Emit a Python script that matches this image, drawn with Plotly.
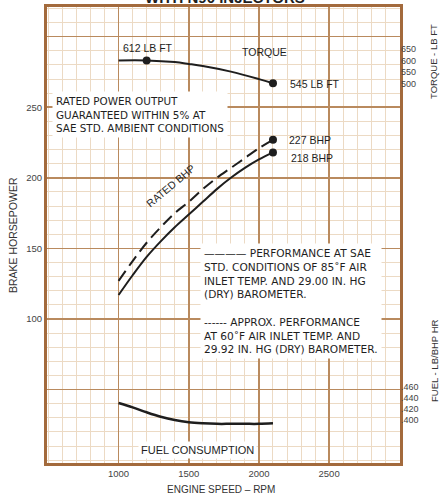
import plotly.graph_objects as go

# ---------------- data ----------------
rpm = [1000, 1100, 1200, 1300, 1400, 1500, 1600, 1700, 1800, 1900, 2000, 2100]
bhp_sae = [117, 131, 144, 155, 165, 174, 183, 192, 200, 207, 213, 218]
bhp_approx = [127, 141, 154, 165, 175, 183, 192, 200, 207, 214, 221, 227]

torque_rpm = [1000, 1200, 1400, 1500, 1600, 1800, 2000, 2100]
torque = [601, 601, 594, 586, 577, 553, 521, 503]
torque_mark_rpm = [1200, 2100]

fuel = [0.431, 0.423, 0.414, 0.406, 0.400, 0.396, 0.394, 0.393, 0.393, 0.393, 0.393, 0.394]

x_ticks = [1000, 1500, 2000, 2500]
bhp_ticks = [50, 100, 150, 200, 250, 300]
bhp_ticktext = ["", "100", "150", "200", "250", ""]
torque_ticks = [500, 550, 600, 650]
fuel_ticks = [0.400, 0.420, 0.440, 0.460]
fuel_ticktext = [".400", ".420", ".440", ".460"]

# ---------------- layout helpers ----------------
W, H = 440, 499
L, R, T, B = 47, 400, 7, 463

def px(x):
    return (x - L) / (R - L)

def py(y):
    return (B - y) / (B - T)

MAJOR = "#b98a5e"
MINOR = "#ecdac4"
FRAME = "#a36a3c"
INK = "#1e1e1e"
FONT = "Liberation Sans, Arial, sans-serif"
WIDE = "DejaVu Sans, Verdana, sans-serif"

fig = go.Figure()

# BHP curves
fig.add_trace(go.Scatter(x=rpm, y=bhp_approx, mode="lines", line=dict(color=INK, width=2, dash="12px,6px", shape="spline"),
                         yaxis="y", showlegend=False, hoverinfo="skip"))
fig.add_trace(go.Scatter(x=rpm, y=bhp_sae, mode="lines", line=dict(color=INK, width=2, shape="spline"),
                         yaxis="y", showlegend=False, hoverinfo="skip"))
fig.add_trace(go.Scatter(x=[rpm[-1], rpm[-1]], y=[bhp_approx[-1], bhp_sae[-1]], mode="markers",
                         marker=dict(color=INK, size=8), yaxis="y", showlegend=False, hoverinfo="skip"))

# Torque
fig.add_trace(go.Scatter(x=torque_rpm, y=torque, mode="lines", line=dict(color=INK, width=2, shape="spline"),
                         yaxis="y2", showlegend=False, hoverinfo="skip"))
fig.add_trace(go.Scatter(x=torque_mark_rpm, y=[torque[torque_rpm.index(r)] for r in torque_mark_rpm], mode="markers",
                         marker=dict(color=INK, size=8), yaxis="y2", showlegend=False, hoverinfo="skip"))

# Fuel
fig.add_trace(go.Scatter(x=rpm, y=fuel, mode="lines", line=dict(color=INK, width=2.5, shape="spline"),
                         yaxis="y3", showlegend=False, hoverinfo="skip"))

# ---------------- axes ----------------
bhp_range = [-2, 321]

# torque axis: 650 at y=49px, 500 at y=84px
t_scale = (84 - 49) / 150.0
torque_range = [500 - (B - 84) / t_scale, 650 + (49 - T) / t_scale]
# fuel axis: .460 at y=387px, .400 at y=420px
f_scale = (420 - 387) / 0.06
fuel_range = [0.400 - (B - 420) / f_scale, 0.460 + (387 - T) / f_scale]

tickfont = dict(family=FONT, size=9.5, color="#444")
rfont = dict(family=FONT, size=9, color="#444")

fig.update_layout(
    width=W, height=H,
    margin=dict(l=L, r=W - R, t=T, b=H - B, autoexpand=False),
    paper_bgcolor="white", plot_bgcolor="white",
    xaxis=dict(range=[490, 3005], tickvals=x_ticks, ticks="", showgrid=True, gridcolor=MAJOR, gridwidth=1.6,
               minor=dict(tickmode="linear", tick0=0, dtick=100, showgrid=True, gridcolor=MINOR, gridwidth=1),
               showline=True, mirror=True, linecolor=FRAME, linewidth=3, zeroline=False, automargin=False,
               tickfont=tickfont, fixedrange=True),
    yaxis=dict(range=bhp_range, tickvals=bhp_ticks, ticktext=bhp_ticktext, ticks="", showgrid=True,
               gridcolor=MAJOR, gridwidth=1.6,
               minor=dict(tickmode="linear", tick0=0, dtick=10, showgrid=True, gridcolor=MINOR, gridwidth=1),
               showline=True, mirror=True, linecolor=FRAME, linewidth=3, zeroline=False, automargin=False,
               tickfont=tickfont, fixedrange=True),
    yaxis2=dict(range=torque_range, overlaying="y", side="right", tickvals=torque_ticks, ticks="",
                showgrid=False, zeroline=False, showline=False, automargin=False, tickfont=rfont, fixedrange=True),
    yaxis3=dict(range=fuel_range, overlaying="y", side="right", tickvals=fuel_ticks, ticktext=fuel_ticktext,
                ticks="", showgrid=False, zeroline=False, showline=False, automargin=False, tickfont=rfont,
                fixedrange=True),
)

# ---------------- annotations ----------------
def ann(text, x, y, size=10.5, xanchor="center", yanchor="middle", align="center", bg=None, angle=0,
        bold=False, color=INK, pad=1, family=FONT):
    fig.add_annotation(text=("<b>%s</b>" % text) if bold else text, xref="paper", yref="paper",
                       x=px(x), y=py(y), xanchor=xanchor, yanchor=yanchor, align=align, showarrow=False,
                       textangle=angle, bgcolor=bg, borderpad=pad,
                       font=dict(family=family, size=size, color=color))

ann("WITH N90 INJECTORS", 225, 8, size=15, yanchor="bottom", bold=True)

ann("612 LB FT", 148, 48)
ann("TORQUE", 264, 52)
ann("545 LB FT", 288, 84, xanchor="left")
ann("227 BHP", 287, 140, xanchor="left")
ann("218 BHP", 289, 158, xanchor="left")

ann("RATED POWER OUTPUT<br>GUARANTEED WITHIN 5% AT<br>SAE STD. AMBIENT CONDITIONS", 52, 91, size=10.4,
    xanchor="left", yanchor="top", align="left", bg="white", pad=3, family=WIDE)

ann("RATED BHP", 170, 186, size=10.5, angle=-40)

ann("———— PERFORMANCE AT SAE<br>STD. CONDITIONS OF 85˚F AIR<br>INLET TEMP. AND 29.00 IN. HG<br>(DRY) BAROMETER."
    "<br> <br>------ APPROX. PERFORMANCE<br>AT 60˚F AIR INLET TEMP. AND<br>29.92 IN. HG (DRY) BAROMETER.",
    200, 243, size=10.6, xanchor="left", yanchor="top", align="left", bg="white", pad=3, family=WIDE)

ann("FUEL CONSUMPTION", 197, 450, size=11, bg="white", pad=2)

ann("BRAKE HORSEPOWER", 13, 235, size=10.5, angle=-90, color="#333")
ann("ENGINE SPEED – RPM", 221, 490, size=10, color="#333")
ann("TORQUE - LB FT", 434, 62, size=9.5, angle=-90, color="#333")
ann("FUEL - LB/BHP HR", 434, 361, size=9.5, angle=-90, color="#333")

fig.write_html("out.html", config={"displayModeBar": False, "staticPlot": True},
               post_script="document.body.style.margin='0px';document.body.style.overflow='hidden';")
